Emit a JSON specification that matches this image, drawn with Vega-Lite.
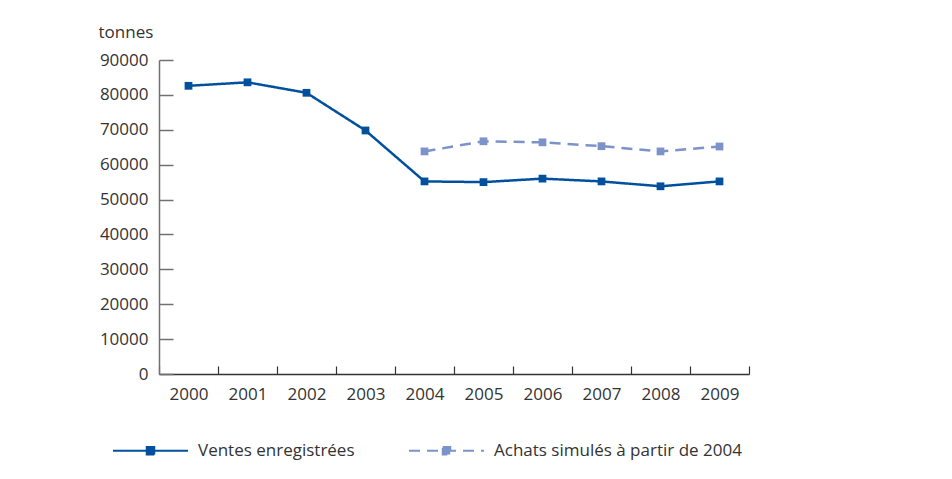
{
  "$schema": "https://vega.github.io/schema/vega-lite/v6.json",
  "width": 590,
  "height": 314,
  "autosize": {"type": "none"},
  "padding": {"left": 159, "top": 60, "right": 203, "bottom": 105},
  "background": "white",
  "config": {
    "view": {"stroke": null},
    "font": "Open Sans",
    "axis": {"labelFont": "Open Sans", "labelFontSize": 17, "labelColor": "#333333", "grid": false, "titleFont": "Open Sans"},
    "legend": {"labelFont": "Open Sans", "labelFontSize": 17, "labelColor": "#333333", "labelLimit": 400}
  },
  "data": {
    "values": [
      {"year": "2000", "series": "Ventes enregistrées", "value": 82600},
      {"year": "2001", "series": "Ventes enregistrées", "value": 83600},
      {"year": "2002", "series": "Ventes enregistrées", "value": 80600},
      {"year": "2003", "series": "Ventes enregistrées", "value": 69800},
      {"year": "2004", "series": "Ventes enregistrées", "value": 55200},
      {"year": "2005", "series": "Ventes enregistrées", "value": 55000},
      {"year": "2006", "series": "Ventes enregistrées", "value": 56000},
      {"year": "2007", "series": "Ventes enregistrées", "value": 55200},
      {"year": "2008", "series": "Ventes enregistrées", "value": 53800},
      {"year": "2009", "series": "Ventes enregistrées", "value": 55200},
      {"year": "2004", "series": "Achats simulés à partir de 2004", "value": 63800},
      {"year": "2005", "series": "Achats simulés à partir de 2004", "value": 66700},
      {"year": "2006", "series": "Achats simulés à partir de 2004", "value": 66400},
      {"year": "2007", "series": "Achats simulés à partir de 2004", "value": 65300},
      {"year": "2008", "series": "Achats simulés à partir de 2004", "value": 63800},
      {"year": "2009", "series": "Achats simulés à partir de 2004", "value": 65200}
    ]
  },
  "encoding": {
    "x": {
      "field": "year", "type": "ordinal",
      "scale": {"paddingInner": 0, "paddingOuter": 0},
      "axis": {
        "title": null, "labelAngle": 0, "bandPosition": 0, "tickBand": "extent",
        "domainColor": "#333333", "tickColor": "#333333", "tickSize": -8, "domainWidth": 1.5, "tickWidth": 1.2,
        "labelPadding": 20
      }
    },
    "y": {
      "field": "value", "type": "quantitative",
      "scale": {"domain": [0, 90000], "nice": false},
      "axis": {
        "values": [0, 10000, 20000, 30000, 40000, 50000, 60000, 70000, 80000, 90000],
        "format": "d",
        "title": "tonnes", "titleAngle": 0, "titleAlign": "left", "titleBaseline": "middle",
        "titleX": -61, "titleY": -28, "titleFontSize": 17, "titleFontWeight": "normal", "titleColor": "#333333",
        "domainColor": "#707070", "tickColor": "#707070", "tickSize": -14, "domainWidth": 1.5, "tickWidth": 1.5,
        "labelPadding": 25
      }
    }
  },
  "layer": [
    {
      "mark": {"type": "line", "strokeWidth": 2.5},
      "encoding": {
        "color": {
          "field": "series", "type": "nominal",
          "scale": {"domain": ["Ventes enregistrées", "Achats simulés à partir de 2004"], "range": ["#00509d", "#7b93c9"]},
          "legend": {
            "title": null, "orient": "none", "direction": "horizontal", "legendX": -47, "legendY": 352,
            "symbolType": "M-1,0H1M-0.1,-0.1H0.1V0.1H-0.1Z", "symbolSize": 5625, "symbolStrokeWidth": 2,
            "labelOffset": 9, "columnPadding": 50, "labelLimit": 400,
            "encode": {"symbols": {"update": {"fill": {"scale": "color", "field": "value"}}}}
          }
        },
        "strokeDash": {
          "field": "series", "type": "nominal",
          "scale": {"domain": ["Ventes enregistrées", "Achats simulés à partir de 2004"], "range": [[1, 0], [11, 7]]},
          "legend": {
            "title": null, "orient": "none", "direction": "horizontal", "legendX": -47, "legendY": 352,
            "symbolType": "M-1,0H1M-0.1,-0.1H0.1V0.1H-0.1Z", "symbolSize": 5625, "symbolStrokeWidth": 2,
            "labelOffset": 9, "columnPadding": 50, "labelLimit": 400
          }
        }
      }
    },
    {
      "mark": {"type": "point", "shape": "square", "filled": true, "size": 60, "opacity": 1},
      "encoding": {
        "fill": {
          "field": "series", "type": "nominal",
          "scale": {"domain": ["Ventes enregistrées", "Achats simulés à partir de 2004"], "range": ["#00509d", "#7b93c9"]},
          "legend": null
        }
      }
    }
  ]
}
